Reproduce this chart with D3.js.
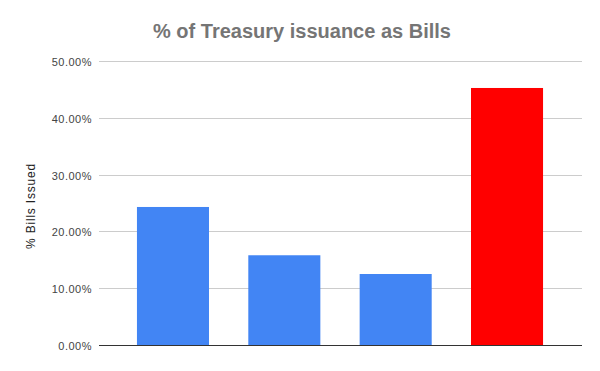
<!DOCTYPE html>
<html>
<head>
<meta charset="utf-8">
<script src="https://cdn.jsdelivr.net/npm/d3@7"></script>
<style>
body{margin:0;background:#fff;}
text{font-family:"Liberation Sans",Arial,sans-serif;}
</style>
</head>
<body>
<svg id="chart" width="600" height="371"></svg>
<script>
const categories = ["A","B","C","D"];
const values = [0.243, 0.158, 0.125, 0.4525];
const barColors = ["#4285f4","#4285f4","#4285f4","#ff0000"];
const tickValues = [0, 0.1, 0.2, 0.3, 0.4, 0.5];
const title = "% of Treasury issuance as Bills";
const yLabel = "% Bills Issued";

const svg = d3.select("#chart");
const plotLeft = 99, plotRight = 582, plotTop = 61, plotBottom = 345;

const x = d3.scaleBand().domain(categories).range([117.3, 562.7]).paddingInner(0.353).paddingOuter(0.1765);
const y = d3.scaleLinear().domain([0, 0.5]).range([plotBottom, plotTop]);

svg.append("rect").attr("width",600).attr("height",371).attr("fill","#fff");

// gridlines
svg.append("g").selectAll("line").data(tickValues.filter(d=>d>0)).join("line")
  .attr("x1",plotLeft).attr("x2",plotRight)
  .attr("y1",d=>Math.round(y(d))+0.5).attr("y2",d=>Math.round(y(d))+0.5)
  .attr("stroke","#cccccc").attr("stroke-width",1);

// y axis labels
const yAxis = d3.axisLeft(y).tickValues(tickValues).tickFormat(d3.format(".2%")).tickSize(0).tickPadding(0);
const yg = svg.append("g").attr("transform",`translate(92,1)`).call(yAxis);
yg.select(".domain").remove();
yg.selectAll("text").attr("font-size",11).attr("fill","#444").attr("letter-spacing","0.5px")
  .attr("font-family","Liberation Sans, Arial, sans-serif");

// bars
svg.append("g").selectAll("rect").data(categories).join("rect")
  .attr("x",d=>x(d)).attr("width",x.bandwidth())
  .attr("y",(d,i)=>y(values[i])).attr("height",(d,i)=>y(0)-y(values[i]))
  .attr("fill",(d,i)=>barColors[i]);

// baseline
svg.append("line").attr("x1",plotLeft).attr("x2",plotRight)
  .attr("y1",plotBottom+0.5).attr("y2",plotBottom+0.5)
  .attr("stroke","#333").attr("stroke-width",1);

// title
svg.append("text").attr("x",302).attr("y",38).attr("text-anchor","middle")
  .attr("font-size",20).attr("font-weight","bold").attr("fill","#757575").text(title);

// y label
svg.append("text").attr("transform","translate(35,206) rotate(-90)").attr("text-anchor","middle")
  .attr("font-size",12).attr("letter-spacing","0.8px").attr("fill","#222").text(yLabel);
</script>
</body>
</html>
